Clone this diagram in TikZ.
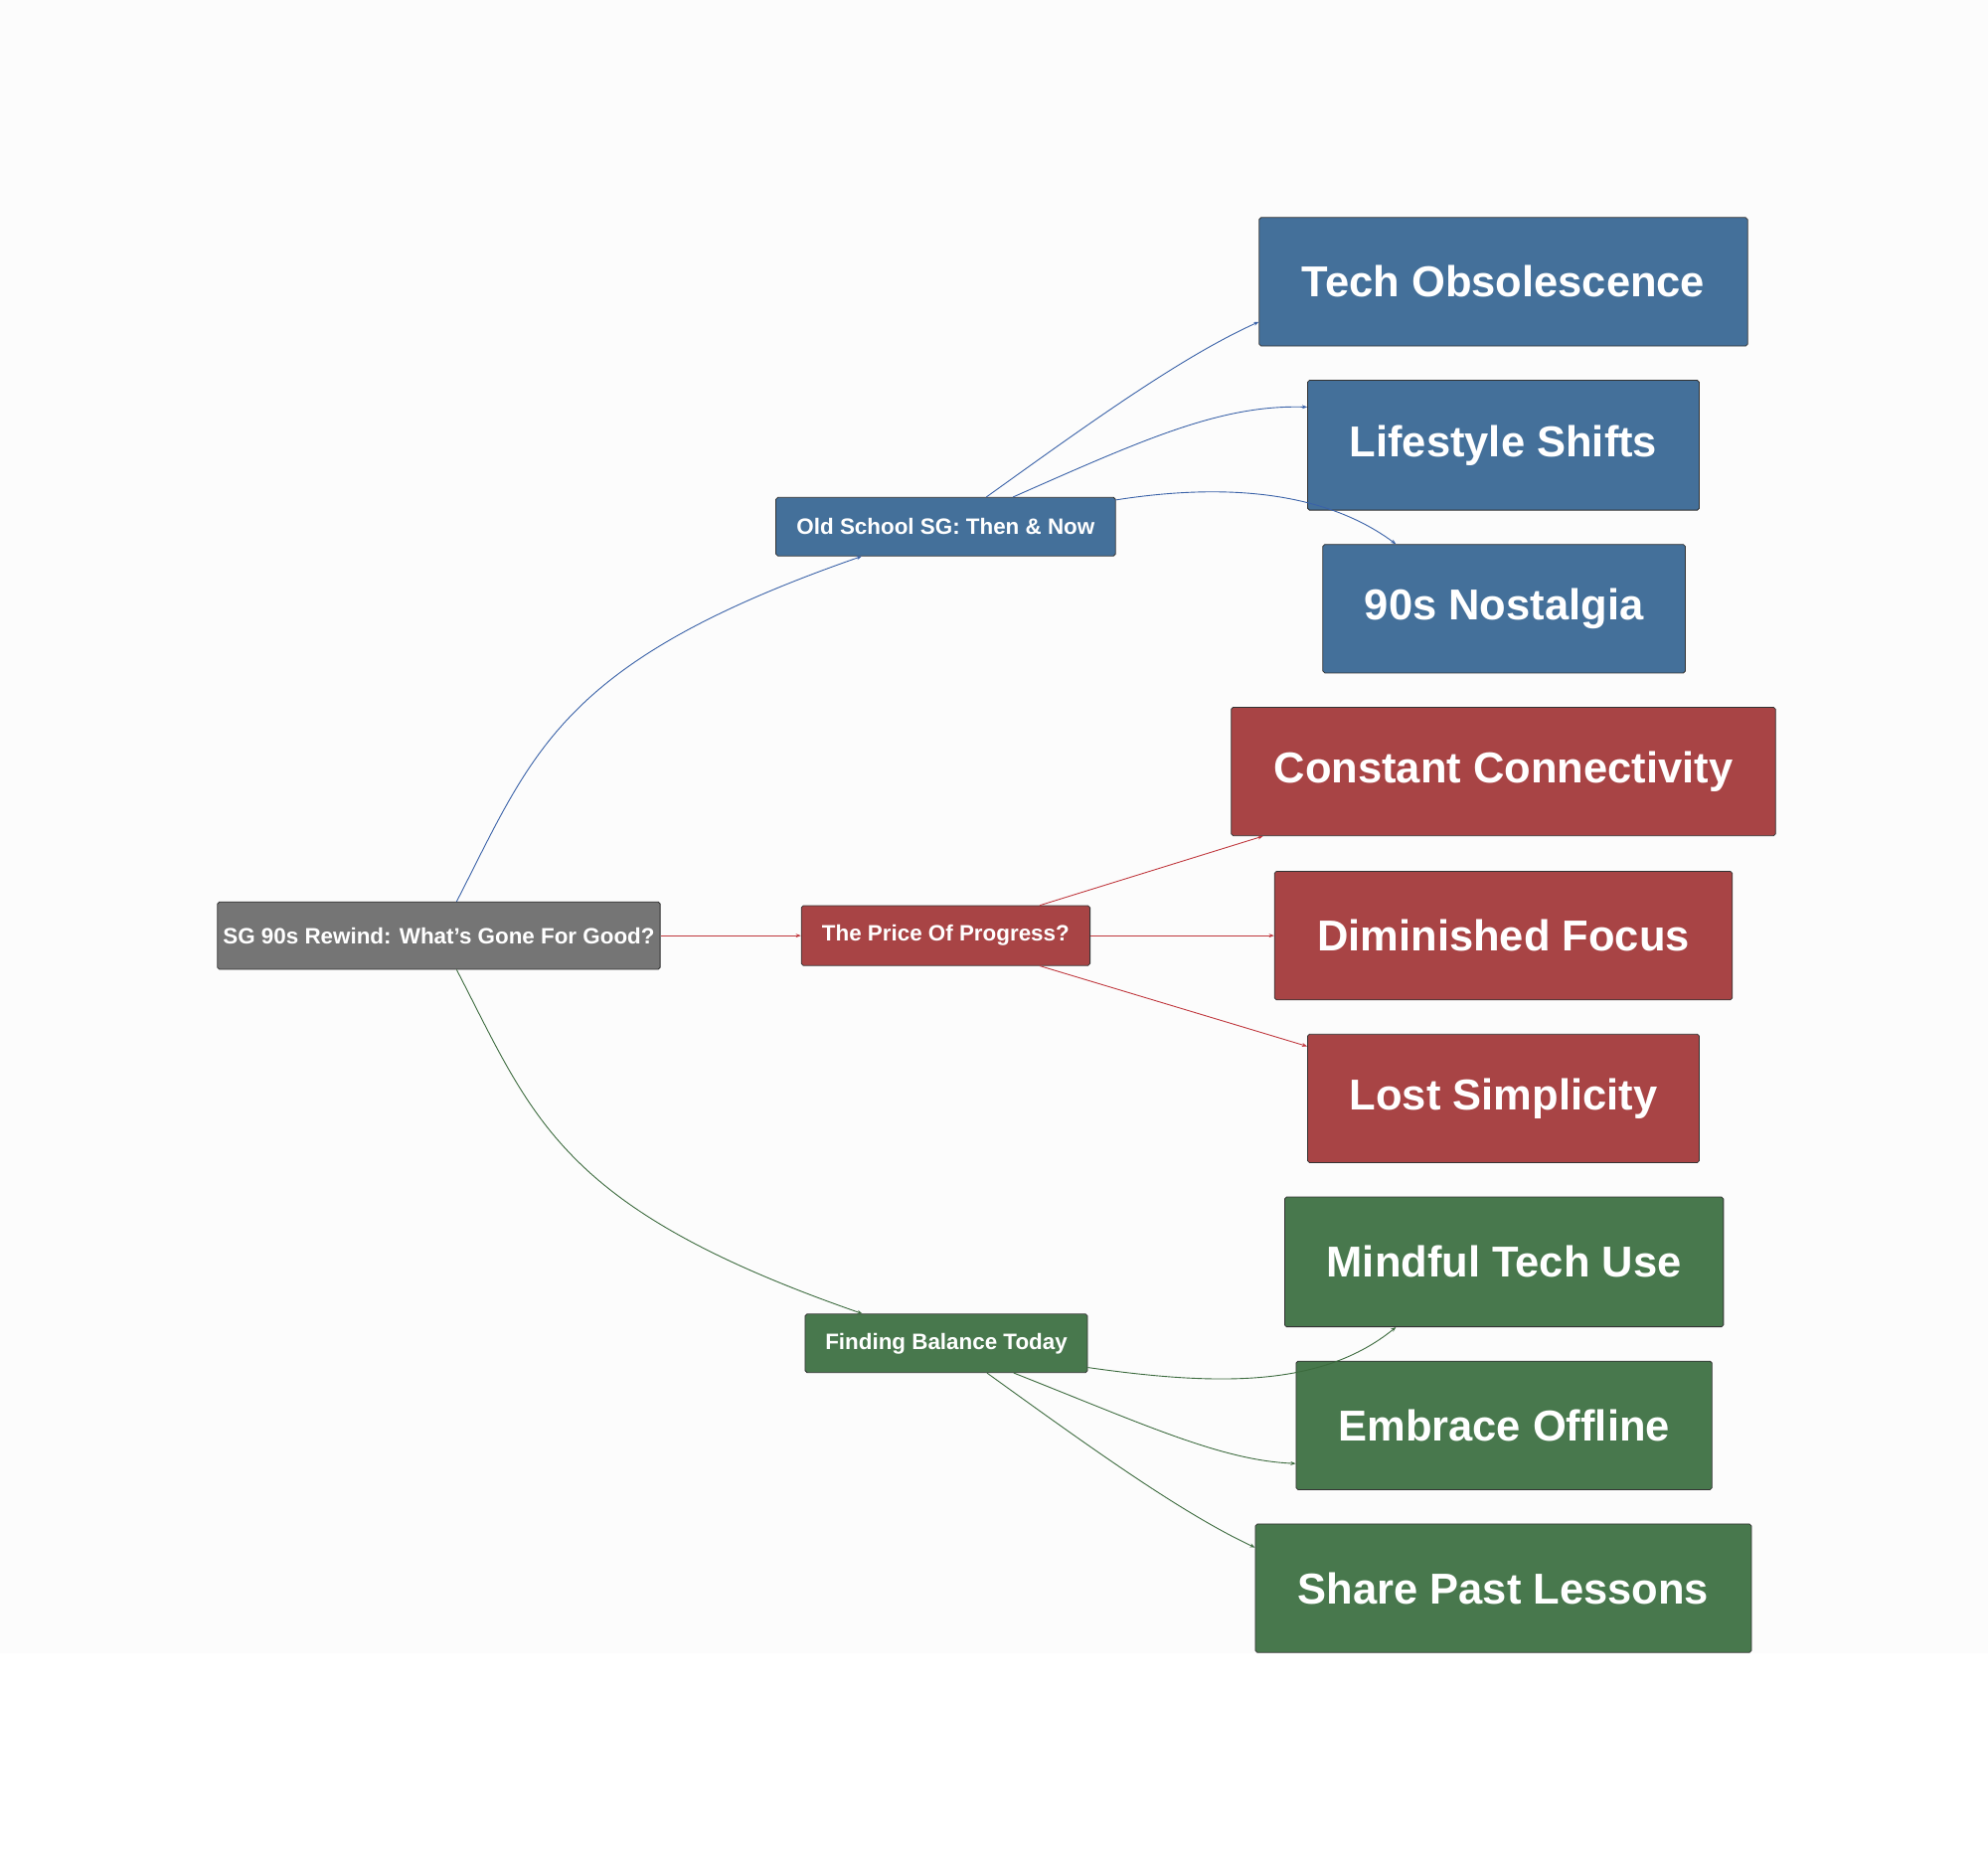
\documentclass[tikz,border=0pt]{standalone}
\usepackage{fontspec}
\setmainfont{Liberation Sans}
\usetikzlibrary{arrows.meta}
\definecolor{cgray}{HTML}{757575}
\definecolor{cblue}{HTML}{44709A}
\definecolor{cred}{HTML}{A84445}
\definecolor{cgreen}{HTML}{48784D}
\definecolor{lblue}{HTML}{3A62A8}
\definecolor{lred}{HTML}{C0383E}
\definecolor{lgreen}{HTML}{3C6B3E}
\begin{document}
\begin{tikzpicture}[x=1pt,y=-1pt,
 box/.style={draw=black!80,line width=0.6pt,rounded corners=1.5pt,text=white,font=\bfseries,inner sep=0pt},
 small/.style={box,font=\bfseries\fontsize{17.5}{20}\selectfont},
 big/.style={box,font=\bfseries\fontsize{34}{40}\selectfont},
 edge/.style={line width=0.7pt,-{Stealth[length=4pt,width=3pt]}}]
\useasboundingbox (0,0) rectangle (1563,1466);
\fill[black!1] (0,0) rectangle (1563,1300);
\node[small,fill=cgray,minimum width=348pt,minimum height=53pt] (root) at (345,735.5) {SG 90s Rewind: What's Gone For Good?};
\node[small,fill=cblue,minimum width=267pt,minimum height=46pt] (old) at (743.5,414) {Old School SG: Then \& Now};
\node[small,fill=cred,minimum width=227pt,minimum height=47pt] (price) at (743.5,735.5) {The Price Of Progress?};
\node[small,fill=cgreen,minimum width=222pt,minimum height=46pt] (fb) at (744,1056) {Finding Balance Today};
\node[big,fill=cblue,minimum width=384pt,minimum height=101pt] (t1) at (1182,221.5) {Tech Obsolescence};
\node[big,fill=cblue,minimum width=308pt,minimum height=102pt] (t2) at (1182,350) {Lifestyle Shifts};
\node[big,fill=cblue,minimum width=285pt,minimum height=101pt] (t3) at (1182.5,478.5) {90s Nostalgia};
\node[big,fill=cred,minimum width=428pt,minimum height=101pt] (p1) at (1182,606.5) {Constant Connectivity};
\node[big,fill=cred,minimum width=360pt,minimum height=101pt] (p2) at (1182,735.5) {Diminished Focus};
\node[big,fill=cred,minimum width=308pt,minimum height=101pt] (p3) at (1182,863.5) {Lost Simplicity};
\node[big,fill=cgreen,minimum width=345pt,minimum height=102pt] (g1) at (1182.5,992) {Mindful Tech Use};
\node[big,fill=cgreen,minimum width=327pt,minimum height=101pt] (g2) at (1182.5,1120.5) {Embrace Offline};
\node[big,fill=cgreen,minimum width=390pt,minimum height=101pt] (g3) at (1182,1248.5) {Share Past Lessons};
\coordinate (rt) at ([xshift=14pt]root.north);
\coordinate (rb) at ([xshift=14pt]root.south);
\draw[edge,lblue] (rt) .. controls (420,590) and (440,520) .. ([xshift=-66pt]old.south);
\draw[edge,lred] (root.east) -- (price.west);
\draw[edge,lgreen] (rb) .. controls (420,880) and (440,950) .. ([xshift=-66pt]fb.north);
\draw[edge,lblue] ([xshift=32pt]old.north) .. controls (860,330) and (930,280) .. ([yshift=-31.5pt]t1.west);
\draw[edge,lblue] ([xshift=53pt]old.north) .. controls (900,345) and (960,318) .. ([yshift=30pt]t2.west);
\draw[edge,lblue] ([yshift=21pt]old.east) .. controls (960,380) and (1040,385) .. ([xshift=-85pt]t3.north);
\draw[edge,lred] ([xshift=74pt]price.north) -- ([xshift=-189pt]p1.south);
\draw[edge,lred] (price.east) -- (p2.west);
\draw[edge,lred] ([xshift=74pt]price.south) -- ([yshift=41pt]p3.west);
\draw[edge,lgreen] ([yshift=-19pt]fb.east) .. controls (960,1090) and (1040,1090) .. ([xshift=-85pt]g1.south);
\draw[edge,lgreen] ([xshift=53pt]fb.south) .. controls (900,1120) and (960,1148) .. ([yshift=-30pt]g2.west);
\draw[edge,lgreen] ([xshift=32pt]fb.south) .. controls (860,1140) and (930,1190) .. ([yshift=32pt]g3.west);
\end{tikzpicture}
\end{document}
